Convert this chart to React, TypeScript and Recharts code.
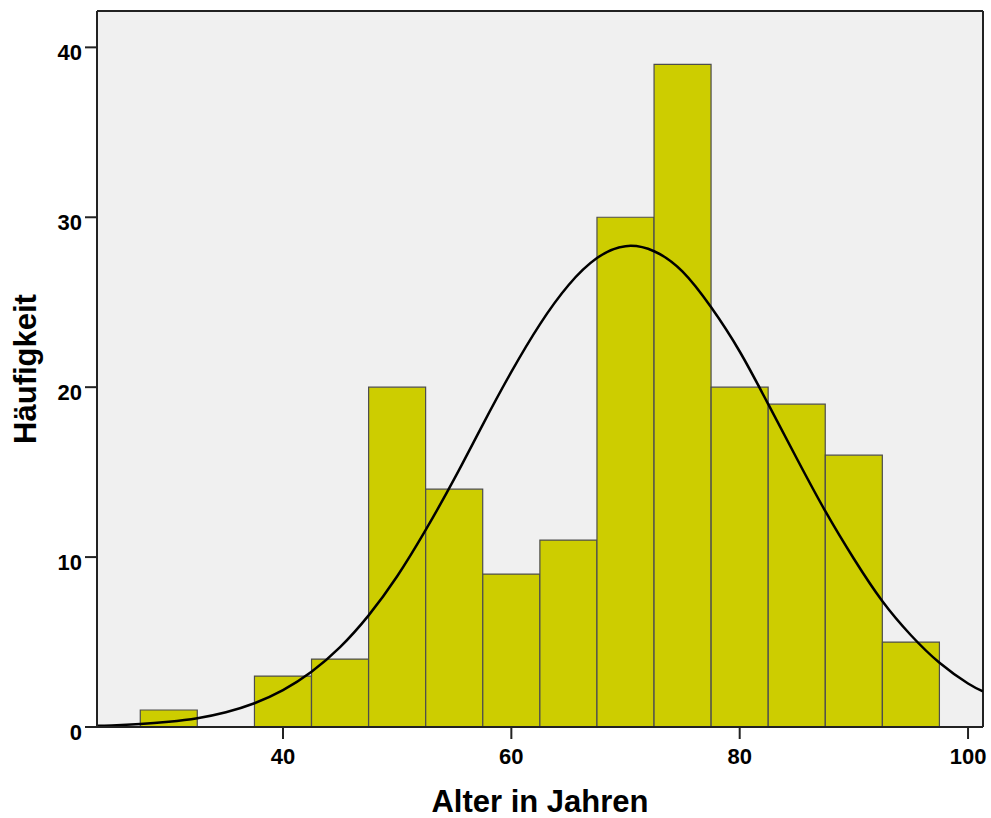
import {
  ComposedChart, Bar, Line, XAxis, YAxis, CartesianGrid,
} from "recharts";

// Altersklassen (Mitte), Breite 5 Jahre
const binCenters = [30, 35, 40, 45, 50, 55, 60, 65, 70, 75, 80, 85, 90, 95];
const counts = [1, 0, 3, 4, 20, 14, 9, 11, 30, 39, 20, 19, 16, 5];

// Normalverteilungskurve
const curveX = [
  23.7, 25, 27.5, 30, 32.5, 35, 37.5, 40, 42.5, 45, 47.5, 50, 52.5, 55, 57.5, 60,
  62.5, 65, 67.5, 70, 72.5, 75, 77.5, 80, 82.5, 85, 87.5, 90, 92.5, 95, 97.5, 100, 101.3,
];
const curveY = [
  0.07, 0.09, 0.17, 0.31, 0.52, 0.87, 1.4, 2.17, 3.25, 4.7, 6.57, 8.87, 11.6, 14.6, 17.8, 20.9,
  23.7, 26.0, 27.6, 28.3, 28.0, 26.8, 24.7, 22.1, 19.0, 15.8, 12.7, 9.9, 7.4, 5.4, 3.78, 2.56, 2.1,
];

const xTicks = [40, 60, 80, 100];
const yTicks = [0, 10, 20, 30, 40];

const X_DOMAIN: [number, number] = [23.71, 101.31];
const Y_DOMAIN: [number, number] = [0, 42.14];

const FONT = '"Liberation Sans", Arial, sans-serif';

const bars = binCenters.map((x, i) => ({ x, count: counts[i] }));
const curve = curveX.map((x, i) => ({ x, density: curveY[i] }));

export default function App() {
  const tickStyle = { fill: "#000", fontSize: 22, fontWeight: 700, fontFamily: FONT };
  const titleStyle = { fill: "#000", fontSize: 31, fontWeight: 700, fontFamily: FONT };
  return (
    <div style={{ position: "absolute", left: 0, top: 0, background: "#fff" }}>
      <ComposedChart
        width={991}
        height={818}
        data={bars}
        margin={{ top: 11, right: 8, left: 0, bottom: 0 }}
        barCategoryGap={0}
        barGap={0}
      >
        {/* Hintergrund + Rahmen um die Plotfläche */}
        <CartesianGrid
          fill="#f0f0f0"
          stroke="#222"
          strokeWidth={2}
          horizontalCoordinatesGenerator={({ offset }: any) => [offset.top, offset.top + offset.height]}
          verticalCoordinatesGenerator={({ offset }: any) => [offset.left, offset.left + offset.width]}
        />
        <XAxis
          xAxisId="bins"
          dataKey="x"
          type="number"
          domain={X_DOMAIN}
          allowDataOverflow
          ticks={xTicks}
          height={91}
          tickSize={12}
          tickMargin={9}
          tick={tickStyle}
          axisLine={{ stroke: "#222", strokeWidth: 2 }}
          tickLine={{ stroke: "#222", strokeWidth: 2 }}
          label={{ value: "Alter in Jahren", position: "insideBottom", offset: 6, ...titleStyle }}
        />
        <XAxis
          xAxisId="curve"
          dataKey="x"
          type="number"
          domain={X_DOMAIN}
          allowDataOverflow
          hide
        />
        <YAxis
          yAxisId="left"
          domain={Y_DOMAIN}
          allowDataOverflow
          ticks={yTicks}
          width={97}
          tickSize={12}
          tickMargin={3}
          tick={{ ...tickStyle, dy: 5 }}
          axisLine={{ stroke: "#222", strokeWidth: 2 }}
          tickLine={{ stroke: "#222", strokeWidth: 2 }}
          label={{ value: "Häufigkeit", angle: -90, position: "center", dx: -24, ...titleStyle }}
        />
        <Bar
          xAxisId="bins"
          yAxisId="left"
          dataKey="count"
          fill="#cdcd00"
          stroke="#4d4d4d"
          strokeWidth={1.2}
          isAnimationActive={false}
        />
        <Line
          xAxisId="curve"
          yAxisId="left"
          data={curve}
          dataKey="density"
          type="natural"
          stroke="#000"
          strokeWidth={2.5}
          dot={false}
          activeDot={false}
          isAnimationActive={false}
        />
      </ComposedChart>
    </div>
  );
}
